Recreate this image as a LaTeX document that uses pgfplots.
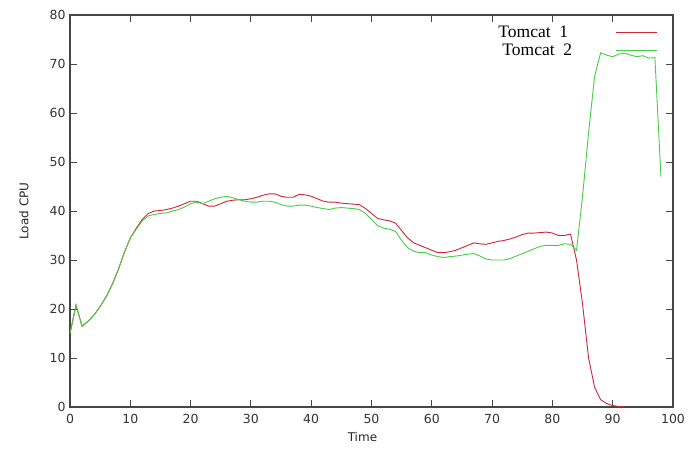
\documentclass[border=0pt]{standalone}
\usepackage{pgfplots}
\pgfplotsset{compat=1.18}
\usepackage{pgfplotstable}
\usepackage{fontspec}
\setmainfont{Liberation Serif}
\newfontfamily\tickfont{DejaVu Sans}
\definecolor{tcred}{RGB}{210,35,55}
\definecolor{tcgreen}{RGB}{70,205,70}
\definecolor{axgray}{RGB}{70,70,70}
\pgfplotstableread{
x a b
0 15.0 15.0
1 20.8 20.8
2 16.5 16.5
3 17.5 17.5
4 18.8 18.8
5 20.5 20.5
6 22.5 22.5
7 25.0 25.0
8 28.0 28.0
9 31.5 31.5
10 34.5 34.5
11 36.5 36.3
12 38.3 38.0
13 39.5 39.0
14 40.0 39.3
15 40.1 39.5
16 40.3 39.6
17 40.6 40.0
18 41.0 40.3
19 41.5 40.8
20 42.0 41.5
21 42.0 41.8
22 41.5 41.5
23 41.0 42.0
24 41.0 42.5
25 41.5 42.8
26 42.0 43.0
27 42.2 42.7
28 42.3 42.3
29 42.3 42.0
30 42.5 41.8
31 42.8 41.8
32 43.2 42.0
33 43.5 42.0
34 43.5 41.8
35 43.0 41.3
36 42.8 41.0
37 42.8 41.0
38 43.4 41.2
39 43.3 41.2
40 43.0 41.0
41 42.5 40.7
42 42.0 40.5
43 41.8 40.3
44 41.8 40.6
45 41.6 40.7
46 41.5 40.6
47 41.4 40.5
48 41.3 40.3
49 40.5 39.5
50 39.5 38.3
51 38.5 37.0
52 38.2 36.5
53 38.0 36.3
54 37.5 35.8
55 36.0 34.0
56 34.5 32.5
57 33.5 31.8
58 33.0 31.5
59 32.5 31.5
60 32.0 31.0
61 31.5 30.7
62 31.5 30.5
63 31.7 30.7
64 32.0 30.8
65 32.5 31.0
66 33.0 31.2
67 33.5 31.3
68 33.3 30.8
69 33.2 30.2
70 33.5 30.0
71 33.8 30.0
72 34.0 30.0
73 34.3 30.3
74 34.7 30.8
75 35.2 31.3
76 35.5 31.8
77 35.5 32.3
78 35.6 32.8
79 35.7 33.0
80 35.5 33.0
81 35.0 33.0
82 35.0 33.3
83 35.3 33.2
84 30.0 32.0
85 21.0 43.0
86 10.0 56.0
87 4.0 67.5
88 1.5 72.3
89 0.7 71.8
90 0.3 71.5
91 0.1 72.0
92 0.0 72.2
93 nan 71.8
94 nan 71.5
95 nan 71.7
96 nan 71.2
97 nan 71.3
98 nan 47.0
}\datatable
\begin{document}
\begin{tikzpicture}[x=1pt,y=1pt]
\path[use as bounding box] (-70,-52) rectangle (619,407);
\begin{axis}[
  at={(0,0)}, anchor=origin,
  scale only axis, width=603pt, height=392pt,
  xmin=0, xmax=100, ymin=0, ymax=80,
  xtick={0,10,...,100}, ytick={0,10,...,80},
  tick align=inside, major tick length=7pt,
  axis line style={axgray, line width=1.1pt},
  every tick/.style={axgray, line width=0.9pt},
  /pgf/number format/assume math mode=true,
  tick label style={font=\tickfont\fontsize{12.5}{14}\selectfont, text=black!80},
  xticklabel style={yshift=-4pt},
  yticklabel style={xshift=-1pt},
  xlabel={Time}, ylabel={Load CPU},
  label style={font=\tickfont\fontsize{12}{14}\selectfont, text=black!85},
  xlabel style={at={(axis description cs:0.485,0)}, anchor=north, yshift=-22pt},
  ylabel style={at={(axis description cs:0,0.5)}, anchor=south, yshift=38pt},
  legend plot pos=right,
  legend cell align=right,
  legend style={draw=none, fill=none, at={(axis cs:97.5,77.9)}, anchor=north east,
    font=\fontsize{17.5}{19}\selectfont, row sep=4pt, inner sep=0pt,
    nodes={inner sep=0.5pt}},
  legend image code/.code={\draw[#1, line width=1pt] (0pt,0pt) -- (41pt,0pt);},
  unbounded coords=jump,
]
\addplot[tcred, line width=0.9pt] table[x=x, y=a] {\datatable};
\addlegendentry{Tomcat\ \ 1\hspace*{47pt}}
\addplot[tcgreen, line width=0.9pt] table[x=x, y=b] {\datatable};
\addlegendentry{Tomcat\ \ 2\hspace*{43pt}}
\end{axis}
\end{tikzpicture}
\end{document}
